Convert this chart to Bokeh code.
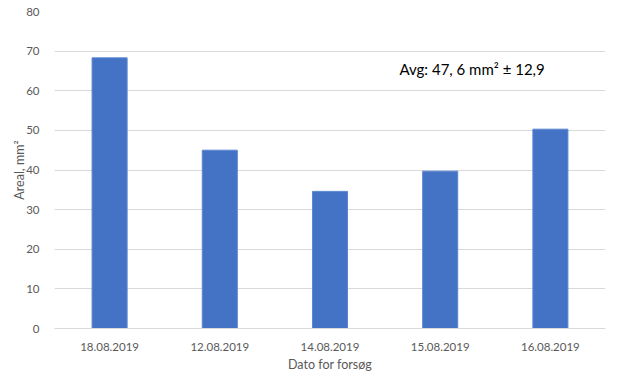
from bokeh.plotting import figure
from bokeh.models import Range1d, FixedTicker, Label, ColumnDataSource
from bokeh.embed import file_html
from bokeh.resources import INLINE

dates = ["18.08.2019", "12.08.2019", "14.08.2019", "15.08.2019", "16.08.2019"]
areal = [68.3, 45.0, 34.6, 39.7, 50.3]
y_ticks = [0, 10, 20, 30, 40, 50, 60, 70, 80]
note = "Avg: 47, 6 mm\u00b2 \u00b1 12,9"

xs = [i + 0.5 for i in range(len(dates))]
src = ColumnDataSource(dict(x=xs, top=areal))

p = figure(width=607, height=374, output_backend="svg", toolbar_location=None,
           x_range=Range1d(0, len(dates)), y_range=Range1d(0, 80),
           min_border_left=54, min_border_right=2, min_border_top=11, min_border_bottom=40)
p.outline_line_color = None
p.vbar(x="x", top="top", width=0.318, source=src, fill_color="#4472C4", line_color="#5a86d2", line_width=1)

font = "Lato"
p.xaxis.ticker = FixedTicker(ticks=xs)
p.xaxis.major_label_overrides = {x: d for x, d in zip(xs, dates)}
p.yaxis.ticker = FixedTicker(ticks=y_ticks)
for ax in (p.xaxis[0], p.yaxis[0]):
    ax.major_tick_line_color = None
    ax.minor_tick_line_color = None
    ax.major_label_text_color = "#595959"
    ax.major_label_text_font = font
    ax.major_label_text_font_size = "11.5px"
    ax.axis_label_text_color = "#595959"
    ax.axis_label_text_font = font
    ax.axis_label_text_font_size = "12.5px"
    ax.axis_label_text_font_style = "normal"
p.yaxis.axis_line_color = None
p.xaxis.axis_line_color = "#d9d9d9"
p.xaxis.major_label_standoff = 8
p.yaxis.major_label_standoff = 9
p.xaxis.axis_label = "Dato for forsøg"
p.xaxis.axis_label_standoff = 3
p.yaxis.axis_label = "Areal, mm\u00b2"
p.yaxis.axis_label_standoff = -4

p.xgrid.grid_line_color = None
p.ygrid.grid_line_color = "#d9d9d9"
p.ygrid.ticker = FixedTicker(ticks=y_ticks)

p.add_layout(Label(x=3.13, y=65.4, text=note, text_font=font, text_font_size="15px",
                   text_color="#000000", text_baseline="alphabetic"))

open("out.html", "w").write(file_html(p, INLINE))
